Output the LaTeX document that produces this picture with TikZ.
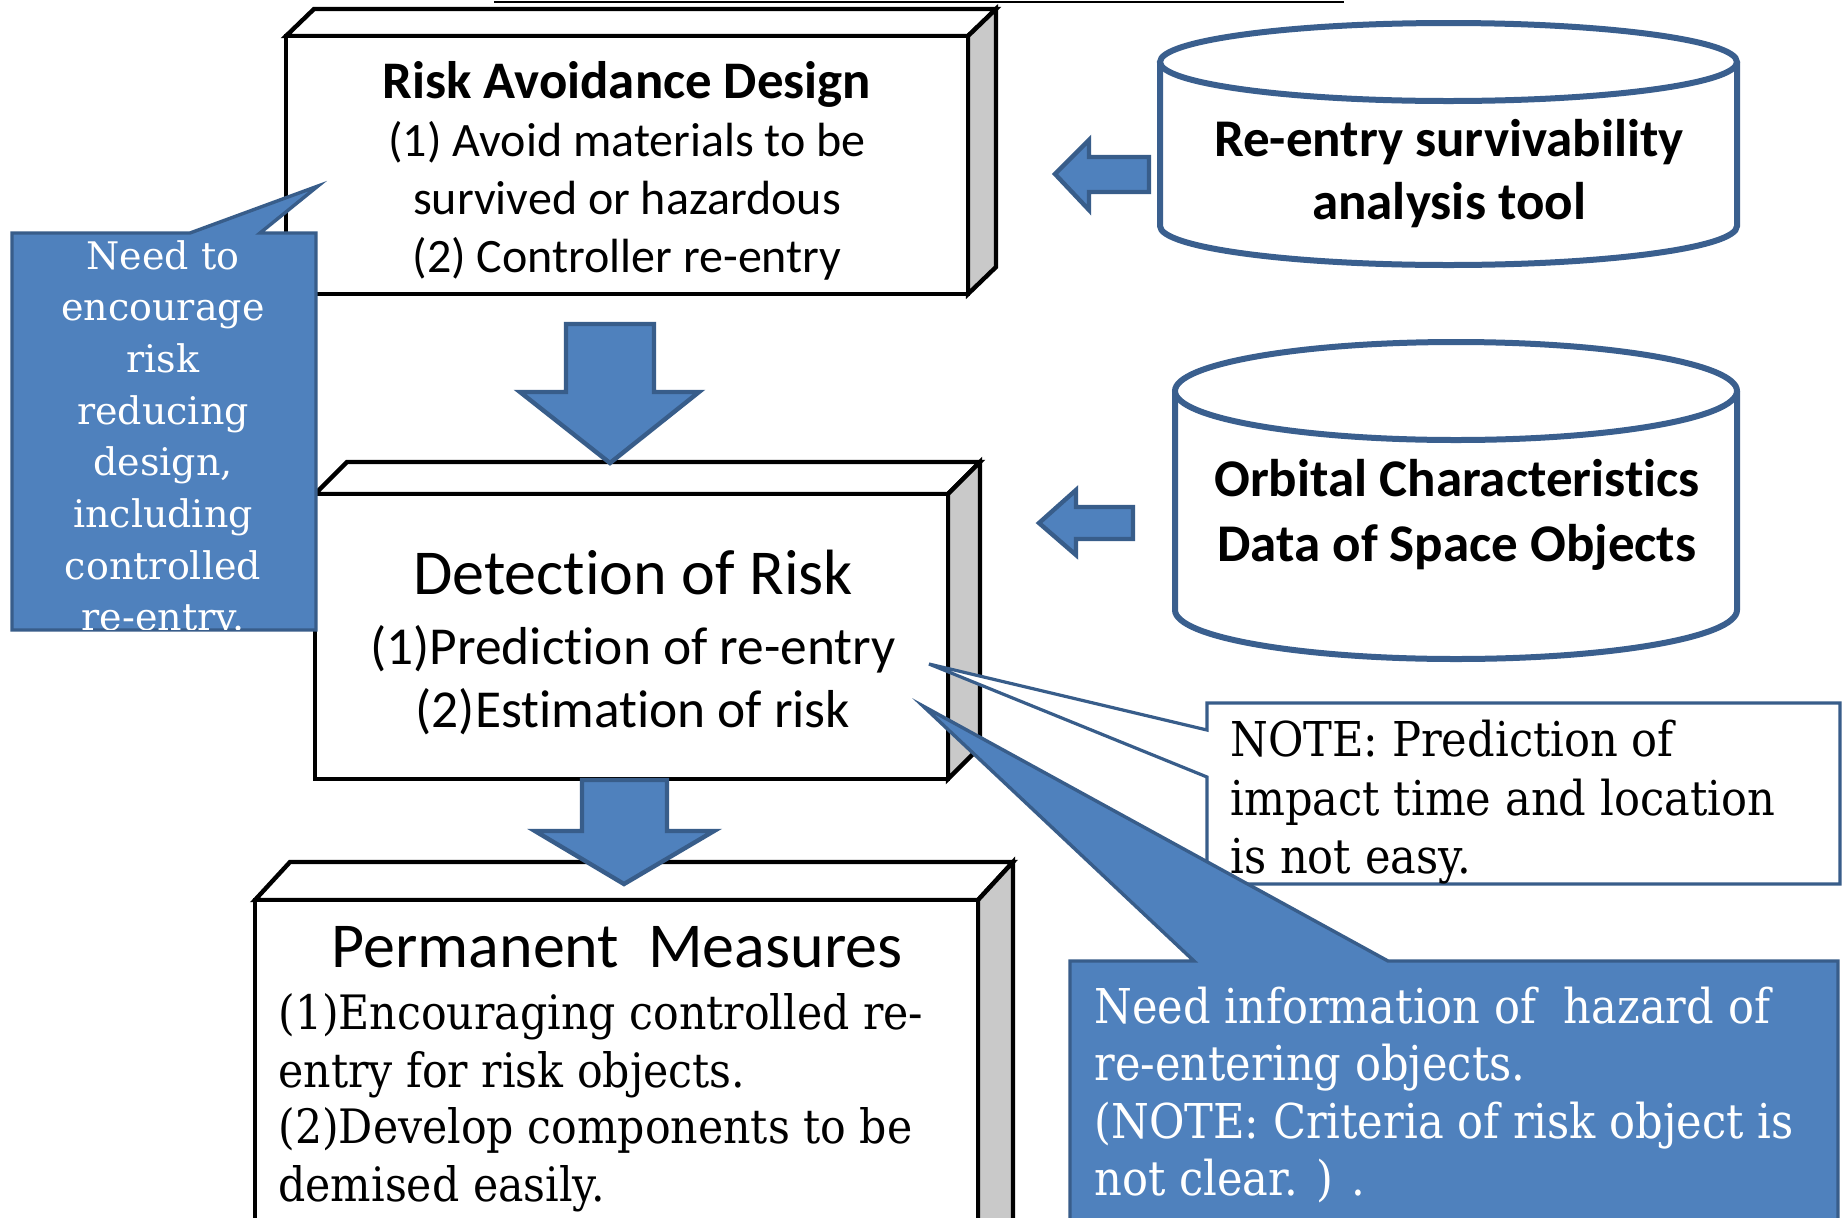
\documentclass[tikz,border=0pt]{standalone}
\usepackage{fontspec}
\setmainfont{DejaVu Serif}
\newfontfamily\calib[Ligatures={NoCommon,NoContextual,NoRare},Contextuals=NoAlternate]{Carlito}
\newfontfamily\condserif[FakeStretch=0.9]{DejaVu Serif}
\definecolor{blfill}{HTML}{4F81BD}
\definecolor{blline}{HTML}{385D8A}
\definecolor{cylline}{HTML}{3A5F8E}
\definecolor{sidegray}{HTML}{C9C9C9}
\tikzset{
  boxline/.style={draw=black, line width=2.2pt, line join=miter},
  frontface/.style={boxline, fill=white},
  topface/.style={boxline, fill=white},
  sideface/.style={boxline, fill=sidegray},
  blockarrow/.style={fill=blfill, draw=blline, line width=2.2pt, line join=miter},
  cyl/.style={draw=cylline, line width=3pt},
  bluecall/.style={fill=blfill, draw=blline, line width=1.7pt, line join=miter},
  notecall/.style={fill=white, draw=blline, line width=1.6pt, line join=miter},
  txt/.style={inner sep=0pt, anchor=base},
  ltxt/.style={inner sep=0pt, anchor=base west},
  boxtitle/.style={txt, font=\calib\bfseries\fontsize{26.4}{31}\selectfont},
  boxline1/.style={txt, font=\calib\fontsize{24}{29}\selectfont},
  bigtitle/.style={txt, font=\calib\fontsize{32}{38}\selectfont},
  midline/.style={txt, font=\calib\fontsize{26.7}{32}\selectfont},
  cyltxt/.style={txt, font=\calib\bfseries\fontsize{26.5}{32}\selectfont},
  sertxt/.style={ltxt, font=\condserif\fontsize{24}{29}\selectfont},
  permtxt/.style={ltxt, font=\condserif\fontsize{23.7}{29}\selectfont},
  wsertxt/.style={ltxt, text=white, font=\condserif\fontsize{24}{29}\selectfont},
  lefttxt/.style={txt, text=white, font=\fontsize{19}{25}\selectfont},
}
\begin{document}
\begin{tikzpicture}[x=0.5pt,y=-0.5pt]
\clip (0,0) rectangle (1844,1217);
\fill[white] (0,0) rectangle (1844,1217);

% top rule (remnant of a title)
\draw[line width=1pt] (494,1.5) -- (1344,1.5);

% ---- Box 1: Risk Avoidance Design
\draw[topface] (286,36) -- (314,9) -- (996,9) -- (968,36) -- cycle;
\draw[sideface] (968,36) -- (996,9) -- (996,267) -- (968,294) -- cycle;
\draw[frontface] (286,36) rectangle (968,294);

% ---- Box 2: Detection of Risk
\draw[topface] (315,494) -- (347,462) -- (980,462) -- (948,494) -- cycle;
\draw[sideface] (948,494) -- (980,462) -- (980,747) -- (948,779) -- cycle;
\draw[frontface] (315,494) rectangle (948,779);

% ---- Box 3: Permanent Measures
\draw[topface] (255,900) -- (290,862) -- (1013,862) -- (978,900) -- cycle;
\draw[sideface] (978,900) -- (1013,862) -- (1013,1222) -- (978,1260) -- cycle;
\draw[frontface] (255,900) rectangle (978,1260);

% ---- Cylinder 1
\fill[white] (1160,62) -- (1160,226) arc[start angle=180,end angle=360,x radius=144.25pt,y radius=19.5pt] -- (1737,62) -- cycle;
\draw[cyl] (1160,62) -- (1160,226) arc[start angle=180,end angle=360,x radius=144.25pt,y radius=19.5pt] -- (1737,62);
\draw[cyl, fill=white] (1448.5,62) ellipse[x radius=144.25pt,y radius=19.5pt];

% ---- Cylinder 2
\fill[white] (1175,391) -- (1175,610) arc[start angle=180,end angle=360,x radius=140.5pt,y radius=24.5pt] -- (1737,391) -- cycle;
\draw[cyl] (1175,391) -- (1175,610) arc[start angle=180,end angle=360,x radius=140.5pt,y radius=24.5pt] -- (1737,391);
\draw[cyl, fill=white] (1456,391) ellipse[x radius=140.5pt,y radius=24.5pt];

% ---- Block arrows
\draw[blockarrow] (566,324) -- (654,324) -- (654,392) -- (699,392) -- (610,463) -- (520,392) -- (566,392) -- cycle;
\draw[blockarrow] (582,780) -- (667,780) -- (667,831) -- (714,831) -- (624,884) -- (535,831) -- (582,831) -- cycle;
\draw[blockarrow] (1149,157) -- (1089,157) -- (1089,140) -- (1055,174) -- (1089,210) -- (1089,192) -- (1149,192) -- cycle;
\draw[blockarrow] (1133,507) -- (1076,507) -- (1076,490) -- (1039,523) -- (1076,555) -- (1076,539) -- (1133,539) -- cycle;

% ---- Box texts
\node[boxtitle] (b1t) at (627,98) {Risk Avoidance Design};
\node[boxline1] (b1a) at (627,156) {(1) Avoid materials to be};
\node[boxline1] (b1b) at (627,214) {survived or hazardous};
\node[boxline1] (b1c) at (627,272) {(2) Controller re-entry};

\node[bigtitle] (b2t) at (633,594) {Detection of Risk};
\node[midline] (b2a) at (633,664) {(1)Prediction of re-entry};
\node[midline] (b2b) at (633,727) {(2)Estimation of risk};

\node[bigtitle] (b3t) at (617,967) {Permanent\ \ Measures};
\node[permtxt] (b3a) at (278,1029) {(1)Encouraging controlled re-};
\node[permtxt] (b3b) at (278,1087) {entry for risk objects.};
\node[permtxt] (b3c) at (278,1143) {(2)Develop components to be};
\node[permtxt] (b3d) at (278,1201) {demised easily.};

\node[cyltxt] (c1a) at (1449,156) {Re-entry survivability};
\node[cyltxt] (c1b) at (1449,219) {analysis tool};
\node[cyltxt] (c2a) at (1457,496) {Orbital Characteristics};
\node[cyltxt] (c2b) at (1457,561) {Data of Space Objects};

% ---- Left callout
\draw[bluecall] (12,233) -- (190,233) -- (318,186) -- (260,233) -- (316,233) -- (316,630) -- (12,630) -- cycle;
\begin{scope}
\clip (12,233) rectangle (316,629);
\node[lefttxt] (l1) at (163,269) {Need to};
\node[lefttxt] (l2) at (163,320.7) {encourage};
\node[lefttxt] (l3) at (163,372.4) {risk};
\node[lefttxt] (l4) at (163,424.1) {reducing};
\node[lefttxt] (l5) at (163,475.8) {design,};
\node[lefttxt] (l6) at (163,527.5) {including};
\node[lefttxt] (l7) at (163,579.2) {controlled};
\node[lefttxt] (l8) at (163,630.9) {re-entry.};
\end{scope}

% ---- NOTE callout
\draw[notecall] (1207,703) -- (1840,703) -- (1840,884) -- (1207,884) -- (1207,777) -- (929,664) -- (1207,730) -- cycle;

% ---- Bottom-right blue callout
\draw[bluecall] (1070,961) -- (1194,961) -- (923,706) -- (1388,961) -- (1838,961) -- (1838,1260) -- (1070,1260) -- cycle;

\node[sertxt] (n1) at (1230,756) {NOTE: Prediction of};
\node[sertxt] (n2) at (1230,815) {impact time and location};
\node[sertxt] (n3) at (1230,873) {is not easy.};

\node[wsertxt] (r1) at (1094,1023) {Need information of\ \ hazard of};
\node[wsertxt] (r2) at (1094,1080) {re-entering objects.};
\node[wsertxt] (r3) at (1094,1138) {(NOTE: Criteria of risk object is};
\node[wsertxt] (r4) at (1094,1195) {not clear. ) .};
\end{tikzpicture}
\end{document}
